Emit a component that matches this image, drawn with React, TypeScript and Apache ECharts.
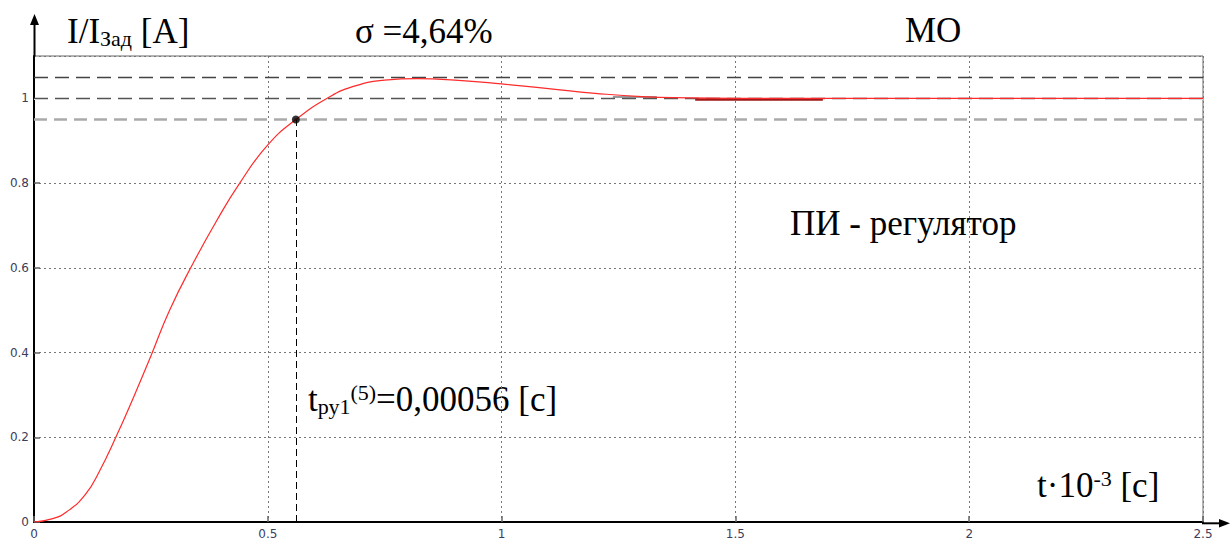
import React, { useEffect, useRef } from "react";
import * as echarts from "echarts";

// time, ms (t·10^-3 s)
const tValues = [0, 0.04, 0.07, 0.11, 0.14, 0.175, 0.215, 0.25, 0.29, 0.34, 0.39, 0.44, 0.5, 0.56, 0.63, 0.68, 0.75, 0.82, 0.9, 1.0, 1.1, 1.2, 1.3, 1.4, 1.5, 1.75, 2.0, 2.25, 2.5];
// I / I_зад
const currentRatio = [0, 0.008, 0.024, 0.065, 0.12, 0.2, 0.3, 0.392, 0.5, 0.61, 0.71, 0.8, 0.89, 0.95, 1.002, 1.027, 1.043, 1.0464, 1.043, 1.034, 1.023, 1.012, 1.004, 1.001, 1.0, 1.0, 1.0, 1.0, 1.0];

const upperBand = 1.05;
const setLevel = 1.0;
const lowerBand = 0.95;
const settlingTime = 0.56;
const settlingLevel = 0.95;
// overlapping segments of the original plot near the steady state
const greySegment = [1.238, 1.332, 1.004];
const darkSegment = [1.414, 1.687, 0.998];

const xMin = 0, xMax = 2.5, xStep = 0.5;
const yMin = 0, yMax = 1.1, yStep = 0.2;

const SERIF = "'Liberation Serif', 'Times New Roman', serif";
const MAIN = 35;
const SMALL = 22;

export default function App() {
  const ref = useRef<HTMLDivElement>(null);
  useEffect(() => {
    if (!ref.current) return;
    const chart = echarts.init(ref.current, null, { renderer: "svg" });
    const curve = tValues.map((t, i) => [t, currentRatio[i]]);
    const rich = {
      m: { fontSize: MAIN, fontFamily: SERIF, lineHeight: 36, color: "#000" },
      sub: { fontSize: SMALL, fontFamily: SERIF, lineHeight: 20, verticalAlign: "bottom", color: "#000" },
      sup: { fontSize: SMALL, fontFamily: SERIF, lineHeight: 20, verticalAlign: "top", color: "#000" },
    };
    const txt = (x: number, y: number, text: string) => ({
      type: "text",
      x,
      y,
      silent: true,
      style: { text, rich, align: "left", verticalAlign: "top", fill: "#000" },
    });
    const option: any = {
      animation: false,
      backgroundColor: "#fff",
      grid: {
        left: 34,
        right: 27,
        top: 56,
        bottom: 17,
        show: true,
        borderColor: "#666",
        borderWidth: 1,
        backgroundColor: "transparent",
      },
      xAxis: {
        type: "value",
        min: xMin,
        max: xMax,
        interval: xStep,
        axisLine: { show: true, onZero: false, lineStyle: { color: "#000", width: 2 } },
        axisTick: { show: true, inside: true, length: 6, lineStyle: { color: "#666", width: 1.5 } },
        axisLabel: {
          margin: 6,
          fontFamily: "'DejaVu Sans', sans-serif",
          fontSize: 12,
          color: "#3d3d5c",
          showMaxLabel: true,
        },
        splitLine: { show: true, lineStyle: { color: "#777", type: [2, 3], width: 1 } },
      },
      yAxis: {
        type: "value",
        min: yMin,
        max: yMax,
        interval: yStep,
        axisLine: { show: true, onZero: false, lineStyle: { color: "#000", width: 2 } },
        axisTick: { show: true, inside: true, length: 6, lineStyle: { color: "#666", width: 1.5 } },
        axisLabel: {
          margin: 5,
          fontFamily: "'DejaVu Sans', sans-serif",
          fontSize: 12,
          color: "#3d3d5c",
          showMaxLabel: false,
          formatter: (v: number) => (v > 1.05 ? "" : String(Math.round(v * 10) / 10)),
        },
        splitLine: { show: true, lineStyle: { color: "#777", type: [2, 3], width: 1 } },
      },
      series: [
        {
          // reference levels (below the curve)
          type: "line",
          data: [],
          z: 2,
          markLine: {
            silent: true,
            symbol: "none",
            label: { show: false },
            data: [
              { yAxis: setLevel, lineStyle: { color: "#fff", type: "solid", width: 2 } },
              { yAxis: upperBand, lineStyle: { color: "#444", type: [14, 7], width: 1.3 } },
              { yAxis: setLevel, lineStyle: { color: "#555", type: [14, 7], width: 1.3 } },
              { yAxis: lowerBand, lineStyle: { color: "#aaa", type: [13, 7], width: 2.5 } },
              [
                { coord: [settlingTime, 0], lineStyle: { color: "#000", type: [7, 4], width: 1 } },
                { coord: [settlingTime, settlingLevel] },
              ],
            ],
          },
        },
        {
          type: "line",
          data: curve,
          showSymbol: false,
          smooth: 0.5,
          lineStyle: { color: "#ff2a2a", width: 1.2 },
          z: 5,
          markLine: {
            silent: true,
            symbol: "none",
            label: { show: false },
            data: [
              [
                { coord: [greySegment[0], greySegment[2]], lineStyle: { color: "#777", type: "solid", width: 1.5 } },
                { coord: [greySegment[1], greySegment[2]] },
              ],
              [
                { coord: [darkSegment[0], darkSegment[2]], lineStyle: { color: "#a01818", type: "solid", width: 2.5 } },
                { coord: [darkSegment[1], darkSegment[2]] },
              ],
            ],
          },
        },
        {
          type: "scatter",
          data: [[settlingTime, settlingLevel]],
          symbol: "circle",
          symbolSize: 8,
          itemStyle: { color: "#000" },
          z: 10,
        },
      ],
      graphic: [
        // axis extensions with arrows
        { type: "line", silent: true, shape: { x1: 34.5, y1: 57, x2: 34.5, y2: 22 }, style: { stroke: "#000", lineWidth: 2 } },
        { type: "polygon", silent: true, shape: { points: [[30, 25], [34.5, 14], [39, 25]] }, style: { fill: "#000" } },
        { type: "line", silent: true, shape: { x1: 1202, y1: 523.3, x2: 1222, y2: 523.3 }, style: { stroke: "#000", lineWidth: 2 } },
        { type: "polygon", silent: true, shape: { points: [[1219, 519], [1230, 523.3], [1219, 527.6]] }, style: { fill: "#000" } },
        txt(67, 13, "{m|I/I}{sub|Зад}{m| [A]}"),
        txt(355, 13, "{m|σ =4,64%}"),
        txt(905, 12, "{m|МО}"),
        txt(790, 205, "{m|ПИ - регулятор}"),
        txt(308, 381, "{m|t}{sub|ру1}{sup|(5)}{m|=0,00056 [с]}"),
        txt(1037, 467, "{m|t·10}{sup|-3}{m| [с]}"),
      ],
    };
    chart.setOption(option);
    return () => chart.dispose();
  }, []);
  return <div ref={ref} style={{ width: 1230, height: 540, position: "absolute", left: 0, top: 0 }} />;
}
